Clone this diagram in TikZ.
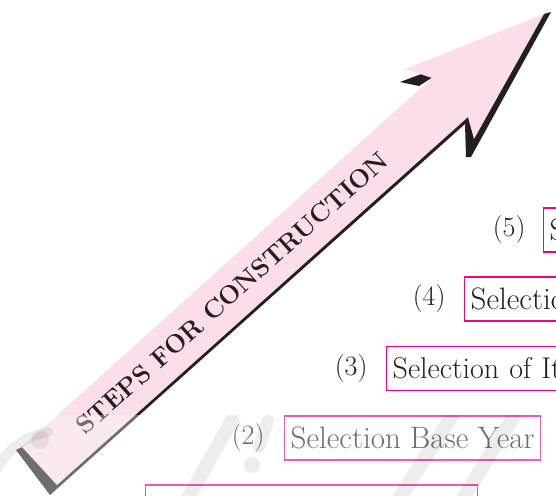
\documentclass[tikz,border=0pt]{standalone}
\usepackage{fontspec}
\usepackage{tikz}
\usetikzlibrary{positioning}

\definecolor{arrowPink}{RGB}{251,222,233}
\definecolor{shadowBlack}{RGB}{35,31,32}
\definecolor{boxMagenta}{RGB}{236,0,140}

\tikzset{
  stepbox/.style={draw=boxMagenta, line width=1.4pt, minimum height=44pt,
    inner xsep=6pt, anchor=west, text=black!88, font=\fontsize{31}{36}\selectfont},
  steplabel/.style={text=black!88, font=\fontsize{28}{32}\selectfont},
  wmark/.style={line width=14pt, line cap=round, draw=black, opacity=0.07},
}

\begin{document}
\begin{tikzpicture}[x=1pt, y=-1pt, line join=miter]
  \useasboundingbox (0,0) rectangle (556,495);
  \clip (0,0) rectangle (556,495);

  % Arrow corners (pink face)
  \coordinate (tailUp)  at (22,447);
  \coordinate (tailLow) at (57,485);
  \coordinate (barbIn)  at (432,78);
  \coordinate (barbL)   at (405,69);
  \coordinate (tip)     at (544,14);
  \coordinate (barbR)   at (474,139);
  \coordinate (notch)   at (468,117);

  % Dark side of the arrow, mostly hidden under the face
  \fill[shadowBlack] (551,12) -- (471,157) -- (466,157) -- (465,124)
    -- (50,495) -- (16,450) -- (tailUp) -- (tip) -- cycle;
  \fill[shadowBlack] (400,82) -- (424,73) -- (433,77) -- (419,86) -- cycle;

  % Face
  \fill[arrowPink] (tailUp) -- (barbIn) -- (barbL) -- (tip) -- (barbR)
    -- (notch) -- (tailLow) -- cycle;

  \node[rotate=41.9, text=shadowBlack, font=\fontsize{25.5}{30}\selectfont\bfseries]
    (title) at (232,293) {STEPS FOR CONSTRUCTION};

  % Steps, running off to the right
  \node[stepbox, text width=200pt, align=left] (s5) at (543,230) {S};
  \node[stepbox, text width=200pt, align=left] (s4) at (464,299) {Selectio};
  \node[stepbox, text width=200pt, align=left, font=\fontsize{30}{36}\selectfont]
    (s3) at (386,368.5) {Selection of It};
  \node[stepbox] (s2) at (284,438) {Selection Base Year};
  \node[stepbox, minimum width=332pt] (s1) at (145,507) {};

  \node[steplabel, left=14pt of s5] (n5) {(5)};
  \node[steplabel, left=15pt of s4] (n4) {(4)};
  \node[steplabel, left=15pt of s3] (n3) {(3)};
  \node[steplabel, left=16pt of s2] (n2) {(2)};

  % Faded lower band with a light watermark
  \begin{scope}
    \clip (0,415) rectangle (556,495);
    \fill[white, opacity=0.35] (0,415) rectangle (556,495);
    \draw[wmark] (232,420) -- (187,500);
    \draw[wmark, line width=12pt] (268,421) -- (259,447);
    \fill[black, opacity=0.07] (252,465) circle (8);
    \draw[wmark] (452,416) -- (398,500);
    \draw[wmark] (514,416) -- (462,500);
    \draw[wmark, line width=10pt] (-5,472) .. controls (8,448) and (25,436) .. (48,432);
    \fill[black, opacity=0.07] (40,440) circle (9);
  \end{scope}
\end{tikzpicture}
\end{document}
